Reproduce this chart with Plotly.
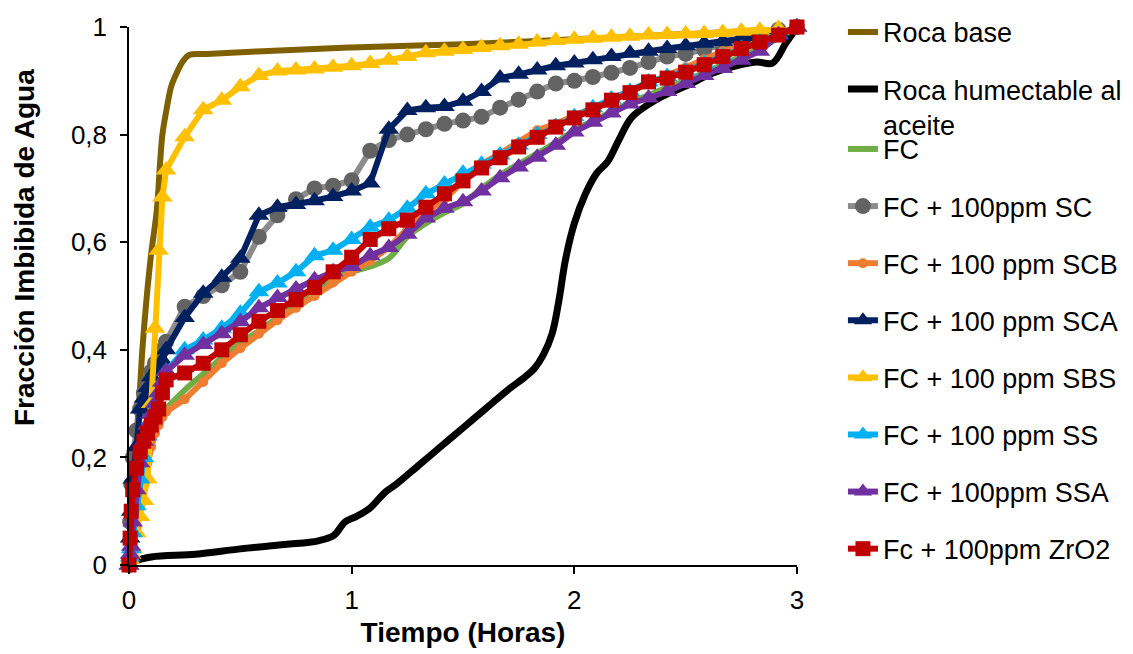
import plotly.graph_objects as go

# ---------------- data ----------------
t_hours = [0, 0.005, 0.01, 0.0167, 0.0333, 0.05, 0.0667, 0.0833, 0.1, 0.1167, 0.1333, 0.15, 0.1667,
           0.25, 0.3333, 0.4167, 0.5, 0.5833, 0.6667, 0.75, 0.8333, 0.9167, 1.0,
           1.0833, 1.1667, 1.25, 1.3333, 1.4167, 1.5, 1.5833, 1.6667, 1.75, 1.8333,
           1.9167, 2.0, 2.0833, 2.1667, 2.25, 2.3333, 2.4167, 2.5, 2.5833, 2.6667,
           2.75, 2.8333, 2.9167, 3.0]

base_x = [0, 0.01, 0.025, 0.045, 0.06, 0.08, 0.1, 0.125, 0.14, 0.15, 0.17, 0.19, 0.215, 0.24,
          0.27, 0.35, 0.6, 1.0, 1.5, 2.0, 2.5, 2.8, 3.0]
base_y = [0, 0.1, 0.2, 0.3, 0.4, 0.5, 0.58, 0.66, 0.75, 0.80, 0.85, 0.89, 0.915, 0.935,
          0.948, 0.95, 0.955, 0.962, 0.968, 0.977, 0.987, 0.993, 1.0]

oil_x = [0, 0.1, 0.3, 0.5, 0.7, 0.85, 0.92, 0.97, 1.02, 1.08, 1.15, 1.2, 1.3, 1.4, 1.5, 1.6,
         1.7, 1.78, 1.82, 1.86, 1.9, 1.93, 1.96, 2.0, 2.05, 2.1, 2.15, 2.2, 2.26, 2.39, 2.5,
         2.62, 2.75, 2.82, 2.89, 2.95, 3.0]
oil_y = [0.005, 0.015, 0.02, 0.03, 0.038, 0.045, 0.055, 0.08, 0.09, 0.105, 0.135, 0.15, 0.185,
         0.22, 0.255, 0.29, 0.325, 0.35, 0.365, 0.39, 0.43, 0.49, 0.567, 0.635, 0.69, 0.728,
         0.75, 0.79, 0.833, 0.87, 0.89, 0.914, 0.93, 0.935, 0.933, 0.97, 1.0]

fc = [0, 0.01, 0.02, 0.03, 0.07, 0.11, 0.15, 0.19, 0.22, 0.245, 0.265, 0.28, 0.29,
      0.325, 0.355, 0.385, 0.413, 0.435, 0.46, 0.485, 0.51, 0.53, 0.545,
      0.555, 0.57, 0.61, 0.635, 0.655, 0.672, 0.70, 0.725, 0.745, 0.765,
      0.785, 0.808, 0.825, 0.842, 0.86, 0.873, 0.888, 0.90, 0.915, 0.93,
      0.945, 0.96, 0.98, 1.0]
sc = [0, 0.08, 0.15, 0.2, 0.25, 0.29, 0.32, 0.34, 0.36, 0.375, 0.39, 0.40, 0.415,
      0.48, 0.50, 0.52, 0.545, 0.61, 0.65, 0.68, 0.70, 0.705, 0.715,
      0.77, 0.79, 0.80, 0.81, 0.82, 0.826, 0.833, 0.85, 0.865, 0.88,
      0.895, 0.90, 0.907, 0.915, 0.924, 0.935, 0.945, 0.95, 0.958, 0.965,
      0.975, 0.985, 0.995, 1.0]
scb = [0, 0.01, 0.02, 0.03, 0.07, 0.11, 0.15, 0.19, 0.22, 0.245, 0.26, 0.275, 0.285,
       0.308, 0.34, 0.375, 0.403, 0.43, 0.455, 0.478, 0.50, 0.525, 0.545,
       0.565, 0.59, 0.625, 0.655, 0.68, 0.712, 0.745, 0.765, 0.785, 0.808,
       0.82, 0.835, 0.85, 0.866, 0.88, 0.895, 0.91, 0.925, 0.94, 0.955,
       0.965, 0.975, 0.988, 1.0]
sca = [0, 0.05, 0.1, 0.16, 0.22, 0.29, 0.31, 0.33, 0.35, 0.36, 0.37, 0.38, 0.40,
       0.46, 0.505, 0.535, 0.57, 0.65, 0.665, 0.67, 0.677, 0.685, 0.695,
       0.71, 0.81, 0.845, 0.85, 0.852, 0.862, 0.88, 0.905, 0.912, 0.92,
       0.928, 0.933, 0.939, 0.945, 0.951, 0.955, 0.96, 0.965, 0.97, 0.973,
       0.978, 0.982, 0.99, 1.0]
sbs = [0, 0.01, 0.02, 0.03, 0.06, 0.09, 0.12, 0.16, 0.30, 0.44, 0.585, 0.684, 0.734,
       0.796, 0.846, 0.864, 0.889, 0.91, 0.918, 0.92, 0.922, 0.925, 0.928,
       0.932, 0.938, 0.945, 0.952, 0.955, 0.958, 0.962, 0.965, 0.968, 0.972,
       0.975, 0.977, 0.979, 0.981, 0.983, 0.985, 0.986, 0.987, 0.988, 0.99,
       0.992, 0.994, 0.997, 1.0]
ss = [0, 0.015, 0.03, 0.06, 0.11, 0.16, 0.20, 0.24, 0.27, 0.30, 0.32, 0.34, 0.36,
      0.40, 0.418, 0.44, 0.468, 0.508, 0.524, 0.545, 0.575, 0.585, 0.605,
      0.628, 0.641, 0.663, 0.69, 0.708, 0.728, 0.745, 0.762, 0.78, 0.80,
      0.815, 0.833, 0.85, 0.866, 0.88, 0.898, 0.908, 0.918, 0.932, 0.946,
      0.96, 0.972, 0.986, 1.0]
ssa = [0, 0.02, 0.035, 0.08, 0.14, 0.19, 0.23, 0.26, 0.28, 0.30, 0.32, 0.34, 0.36,
       0.39, 0.41, 0.43, 0.452, 0.478, 0.497, 0.513, 0.53, 0.545, 0.555,
       0.575, 0.59, 0.615, 0.645, 0.663, 0.675, 0.695, 0.72, 0.74, 0.758,
       0.78, 0.805, 0.823, 0.84, 0.857, 0.868, 0.88, 0.895, 0.91, 0.923,
       0.938, 0.955, 0.985, 1.0]
zro2 = [0, 0.05, 0.10, 0.14, 0.18, 0.21, 0.23, 0.245, 0.26, 0.275, 0.29, 0.32, 0.344,
        0.357, 0.375, 0.40, 0.428, 0.453, 0.473, 0.493, 0.516, 0.545, 0.572,
        0.605, 0.625, 0.641, 0.665, 0.69, 0.714, 0.738, 0.757, 0.777, 0.795,
        0.814, 0.831, 0.846, 0.864, 0.878, 0.898, 0.905, 0.916, 0.93, 0.945,
        0.96, 0.972, 0.985, 1.0]

y_tickvals = [0, 0.2, 0.4, 0.6, 0.8, 1.0]
y_ticktext = ['0', '0,2', '0,4', '0,6', '0,8', '1']
x_tickvals = [0, 1, 2, 3]

x_title = 'Tiempo (Horas)'
y_title = 'Fracción Imbibida de Agua'

# ---------------- figure ----------------
FONT = 'Arial, Liberation Sans, sans-serif'
fig = go.Figure()


def add(name, x, y, color, width, legend, symbol=None, msize=None, mcolor=None, shape='linear'):
    kw = dict(x=x, y=y, name=name, legend=legend, legendgroup=name, cliponaxis=False,
              line=dict(color=color, width=width, shape=shape))
    if symbol:
        kw['mode'] = 'lines+markers'
        kw['marker'] = dict(symbol=symbol, size=msize, color=mcolor or color, line=dict(width=0))
    else:
        kw['mode'] = 'lines'
    fig.add_trace(go.Scatter(**kw))


add('Roca base', base_x, base_y, '#7F6000', 6, 'legend', shape='spline')
add('Roca humectable al<br>aceite', oil_x, oil_y, '#000000', 7, 'legend', shape='spline')
add('FC', t_hours, fc, '#70AD47', 6, 'legend2', shape='spline')
add('FC + 100ppm SC', t_hours, sc, '#8C8C8C', 6, 'legend2', 'circle', 16, '#636363')
add('FC + 100 ppm SCB', t_hours, scb, '#ED7D31', 6, 'legend2', 'circle', 10)
add('FC + 100 ppm SCA', t_hours, sca, '#002060', 6, 'legend2', 'triangle-up', 18)
add('FC + 100 ppm SBS', t_hours, sbs, '#FFC000', 6, 'legend2', 'triangle-up', 18)
add('FC + 100 ppm SS', t_hours, ss, '#00B0F0', 6, 'legend2', 'triangle-up', 18)
add('FC + 100ppm SSA', t_hours, ssa, '#7030A0', 6, 'legend2', 'triangle-up', 18)
add('Fc + 100ppm ZrO2', t_hours, zro2, '#C00000', 6, 'legend2', 'square', 15)

leg_common = dict(xanchor='left', yanchor='top', xref='container', yref='container',
                  font=dict(family=FONT, size=27, color='black'), maxheight=640,
                  tracegroupgap=19, valign='top', bgcolor='rgba(0,0,0,0)', borderwidth=0,
                  itemclick=False, itemdoubleclick=False)

fig.update_layout(
    width=1133, height=654, autosize=False,
    margin=dict(l=129, r=336, t=27, b=89, autoexpand=False),
    paper_bgcolor='white', plot_bgcolor='white',
    font=dict(family=FONT, size=26, color='black'),
    showlegend=True,
    legend=dict(x=0.744, y=0.988, **leg_common),
    legend2=dict(x=0.744, y=0.809, **leg_common),
    xaxis=dict(range=[0, 3], tickvals=x_tickvals, ticks='outside', ticklen=7, tickwidth=1.5,
               tickcolor='black', showline=True, linecolor='black', linewidth=1.5,
               showgrid=False, zeroline=False, tickfont=dict(size=26), ticklabelstandoff=4,
               title=dict(text=x_title, standoff=8,
                          font=dict(family=FONT, size=28, weight='bold'))),
    yaxis=dict(range=[0, 1], tickvals=y_tickvals, ticktext=y_ticktext, ticks='outside', ticklen=7,
               tickwidth=1.5, tickcolor='black', showline=True, linecolor='black', linewidth=1.5,
               showgrid=False, zeroline=False, tickfont=dict(size=26), ticklabelstandoff=8),
    annotations=[dict(text=y_title, textangle=-90, xref='paper', yref='paper',
                      x=(24 - 129) / 668, y=(565 - 248) / 538, xanchor='center', yanchor='middle',
                      showarrow=False, font=dict(family=FONT, size=28, weight='bold', color='black'))],
)

fig.write_html('out.html')
